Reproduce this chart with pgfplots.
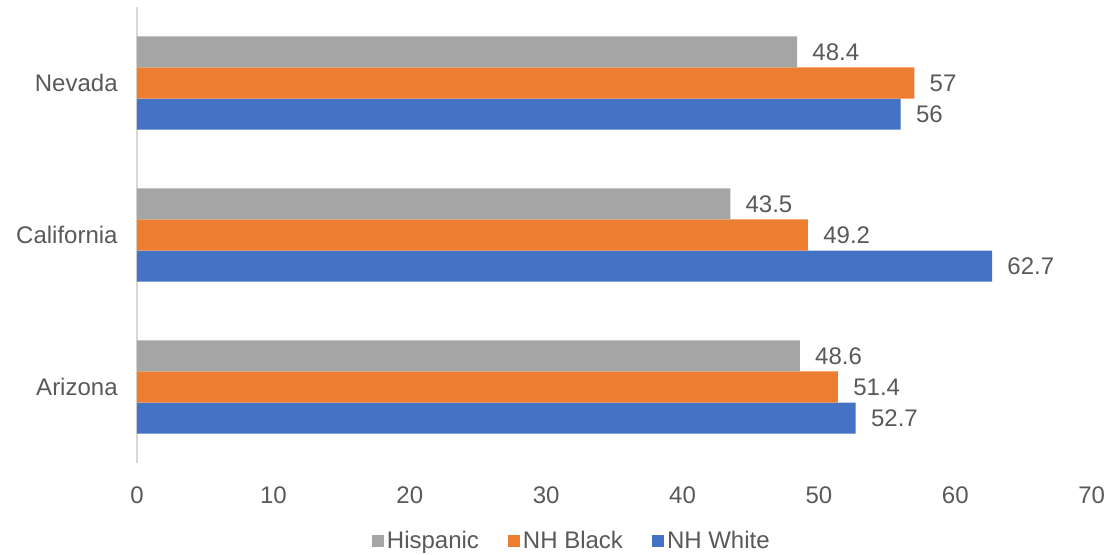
\documentclass[border=0pt]{standalone}
\usepackage{fontspec}
\setmainfont{Liberation Sans}
\usepackage{pgfplots}
\pgfplotsset{compat=1.18}

\definecolor{cHisp}{HTML}{A5A5A5}
\definecolor{cBlack}{HTML}{ED7D31}
\definecolor{cWhite}{HTML}{4472C4}
\definecolor{txt}{HTML}{595959}
\definecolor{axl}{HTML}{D9D9D9}

\newcommand{\lblfont}{\fontsize{18}{21}\selectfont}

\begin{document}
\begin{tikzpicture}[x=0.75pt,y=0.75pt]
% fixed canvas (units of 0.75pt), axis box starts at the origin
\path[use as bounding box] (-137,-91) rectangle (980,463);
\begin{axis}[
  at={(0,0)}, anchor=south west,
  scale only axis,
  width=716pt, height=342pt,
  xbar,
  bar width=0.204,
  xmin=0, xmax=70,
  ymin=-0.5, ymax=2.5,
  xtick={0,10,...,70},
  ytick={0,1,2},
  yticklabels={Arizona,California,Nevada},
  axis x line*=bottom,
  axis y line*=left,
  x axis line style={draw=none},
  y axis line style={draw=axl, line width=1pt, -},
  tick style={draw=none},
  major tick length=0pt,
  /pgf/number format/assume math mode=true,
  every tick label/.append style={font=\lblfont, text=txt},
  xticklabel style={yshift=-14pt},
  yticklabel style={xshift=-11pt},
  nodes near coords,
  every node near coord/.append style={anchor=west, xshift=8pt,
    font=\lblfont, text=txt},
  legend columns=3,
  reverse legend,
  legend style={at={(0.456,-0.171)}, anchor=center, draw=none, fill=none,
    font=\lblfont, text=txt,
    /tikz/every even column/.append style={column sep=20pt},
    inner sep=0pt},
  legend image code/.code={\fill[#1] (0pt,-4.5pt) rectangle (9pt,4.5pt);},
]
\addplot[fill=cWhite, draw=none, bar shift=-0.204] coordinates {(52.7,0) (62.7,1) (56,2)};
\addlegendentry{NH White}
\addplot[fill=cBlack, draw=none, bar shift=0] coordinates {(51.4,0) (49.2,1) (57,2)};
\addlegendentry{NH Black}
\addplot[fill=cHisp, draw=none, bar shift=0.204] coordinates {(48.6,0) (43.5,1) (48.4,2)};
\addlegendentry{Hispanic}
\end{axis}
\end{tikzpicture}
\end{document}
